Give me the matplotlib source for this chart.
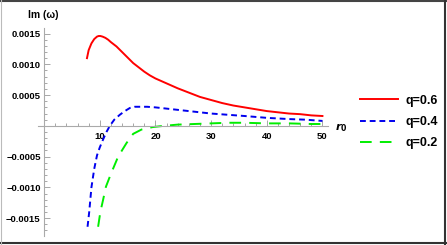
import numpy as np
import matplotlib
matplotlib.use("Agg")
import matplotlib.pyplot as plt
from matplotlib.ticker import MultipleLocator, FixedLocator
from matplotlib.lines import Line2D

plt.rcParams['font.family'] = ['Liberation Sans', 'DejaVu Sans']
plt.rcParams['font.weight'] = 'bold'

# q = 0.6
r_q06 = [7.7, 8.0, 8.5, 9.0, 9.5, 9.8, 10.1, 10.5, 11.0, 11.5, 12.0, 13.0, 14.0, 15.0,
         16.0, 17.0, 18.0, 19.0, 20.0, 22.0, 24.0, 26.0, 28.0, 30.0, 32.0, 34.0, 36.0,
         38.0, 40.0, 42.0, 44.0, 46.0, 48.0, 50.0]
im_q06 = [0.00110, 0.00123, 0.00134, 0.00141, 0.00145, 0.00146, 0.00146, 0.00145, 0.00143,
          0.00140, 0.00136, 0.00129, 0.00120, 0.00111, 0.00102, 0.00095, 0.00088, 0.00082,
          0.00077, 0.00069, 0.00061, 0.00054, 0.00047, 0.00042, 0.00037, 0.00033, 0.00030,
          0.00027, 0.00024, 0.00022, 0.00020, 0.00019, 0.00017, 0.00016]

# q = 0.4
r_q04 = [7.8, 8.1, 8.5, 9.0, 9.5, 10.0, 10.6, 11.2, 11.8, 12.6, 13.6, 14.5, 15.4, 16.3,
         17.2, 18.5, 20.0, 22.0, 25.0, 27.0, 30.0, 33.0, 36.0, 40.0, 44.0, 47.0, 50.0]
im_q04 = [-0.00164, -0.00140, -0.00100, -0.00070, -0.00048, -0.00035, -0.00022, -0.00010,
          0.0, 0.00010, 0.00018, 0.00024, 0.00029, 0.00031, 0.00031, 0.00031, 0.00030,
          0.00028, 0.00025, 0.00023, 0.00020, 0.00018, 0.00016, 0.00013, 0.00011, 0.00010,
          0.00008]

# q = 0.2
r_q02 = [9.7, 10.1, 10.6, 11.1, 12.0, 13.3, 14.8, 16.0, 17.5, 19.5, 21.5, 24.0, 27.0,
         30.0, 33.0, 36.0, 40.0, 44.0, 48.0, 50.0]
im_q02 = [-0.00164, -0.00140, -0.00120, -0.00099, -0.00078, -0.00050, -0.00028, -0.00013,
          -0.00006, -0.00002, 0.0, 0.00002, 0.00003, 0.00004, 0.00005, 0.00005, 0.00004,
          0.00004, 0.00003, 0.00003]

xticks = [10, 20, 30, 40, 50]
yticks = [-0.0015, -0.0010, -0.0005, 0.0005, 0.0010, 0.0015]

W, H = 447, 245
fig = plt.figure(figsize=(W / 100, H / 100), dpi=100)
ax = fig.add_axes([38 / W, (H - 236) / H, 290 / W, 208 / H])

ax.plot(r_q06, im_q06, color='#ff0000', lw=1.4, label='q=0.6')
ax.plot(r_q04, im_q04, color='#0000ee', lw=1.4, dashes=(3.0, 2.0), label='q=0.4')
ax.plot(r_q02, im_q02, color='#00ee00', lw=1.4, dashes=(6.0, 4.2), label='q=0.2')

ax.set_xlim(-1.1, 51)
ax.set_ylim(-0.00179, 0.00159)

for s in ['top', 'right']:
    ax.spines[s].set_visible(False)
ax.spines['left'].set_position(('data', 0))
ax.spines['bottom'].set_position(('data', 0))
for s in ['left', 'bottom']:
    ax.spines[s].set_color('#aaaaaa')
    ax.spines[s].set_linewidth(0.8)

ax.xaxis.set_major_locator(FixedLocator(xticks))
ax.xaxis.set_minor_locator(MultipleLocator(2))
ax.yaxis.set_major_locator(FixedLocator(yticks))
ax.yaxis.set_minor_locator(MultipleLocator(0.0001))
ax.set_xticklabels([str(t) for t in xticks])
ax.set_yticklabels(['\u2212%.4f' % abs(t) if t < 0 else '%.4f' % t for t in yticks])

ax.tick_params(axis='both', which='both', direction='in', color='#999999', width=0.6,
               labelsize=6.8)
ax.tick_params(axis='both', which='major', length=4)
ax.tick_params(axis='both', which='minor', length=2)
ax.tick_params(axis='x', pad=4.5)
ax.tick_params(axis='y', pad=2.5)

fig.text(28 / W, (H - 15) / H, 'Im (\u03c9)', fontsize=7.5, fontweight='bold',
         va='center', ha='left')
fig.text(335 / W, (H - 128) / H, r'$r_0$', fontsize=8, va='center', ha='left')

ax.legend(loc='center left', bbox_to_anchor=(360 / W, (H - 122) / H),
          bbox_transform=fig.transFigure, frameon=False, fontsize=9,
          handlelength=3.0, handletextpad=0.6, labelspacing=0.75,
          borderpad=0, borderaxespad=0)

# image frame
fig.add_artist(Line2D([0, 1], [1 - 1 / H, 1 - 1 / H], transform=fig.transFigure,
                      color='#444444', lw=1.5))
fig.add_artist(Line2D([1 - 2 / W, 1 - 2 / W], [0, 1], transform=fig.transFigure,
                      color='#333333', lw=1.5))
fig.add_artist(Line2D([0, 1], [2.5 / H, 2.5 / H], transform=fig.transFigure,
                      color='#333333', lw=1.5))
fig.add_artist(Line2D([0.5 / W, 0.5 / W], [0, 1], transform=fig.transFigure,
                      color='#bbbbbb', lw=0.8))

fig.savefig('out.png', dpi=100)
